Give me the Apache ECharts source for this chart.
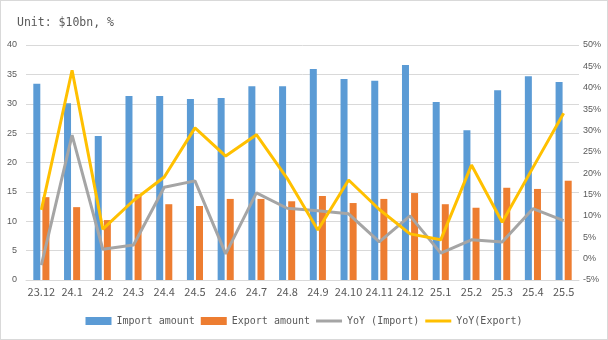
<!DOCTYPE html>
<html>
<head>
<meta charset="utf-8">
<script src="https://cdn.jsdelivr.net/npm/echarts@6/dist/echarts.min.js"></script>
<style>
html,body{margin:0;padding:0;background:#fff;}
#wrap{position:relative;width:608px;height:340px;}
#chart{position:absolute;left:0;top:0;width:608px;height:340px;}
#frame{position:absolute;left:0;top:0;width:606px;height:338px;border:1px solid #d9d9d9;pointer-events:none;}
</style>
</head>
<body>
<div id="wrap"><div id="chart"></div><div id="frame"></div></div>
<script>
const categories = ['23.12','24.1','24.2','24.3','24.4','24.5','24.6','24.7','24.8','24.9','24.10','24.11','24.12','25.1','25.2','25.3','25.4','25.5'];
const importAmount = [33.4,30.1,24.5,31.3,31.3,30.8,31.0,33.0,33.0,35.9,34.2,33.9,36.6,30.3,25.5,32.3,34.7,33.7];
const exportAmount = [14.1,12.4,10.2,14.6,12.9,12.6,13.8,13.8,13.4,14.3,13.1,13.8,14.8,12.9,12.3,15.7,15.5,16.9];
const yoyImport = [-1.5,28.9,2.2,3.2,16.7,18.2,1.1,15.4,11.8,11.2,10.5,3.9,10.0,1.3,4.4,3.9,11.7,8.9];
const yoyExport = [11.4,44.1,6.9,13.6,19.1,30.6,24.0,29.0,18.8,6.7,18.4,11.5,5.8,4.4,21.9,8.5,21.3,34.0];
const leftTicks = {min:0, max:40, interval:5};
const rightTicks = {min:-5, max:50, interval:5};

const chart = echarts.init(document.getElementById('chart'));
const grey = '#595959';
chart.setOption({
  animation:false,
  backgroundColor:'#fff',
  title:{text:'Unit: $10bn, %', left:12, top:12,
    textStyle:{fontFamily:'DejaVu Sans Mono', fontSize:11.5, fontWeight:'normal', color:grey}},
  grid:{left:26, right:29, top:45, bottom:60, containLabel:false},
  legend:{bottom:9, left:'center', itemGap:6, itemWidth:26, itemHeight:8,
    textStyle:{fontFamily:'DejaVu Sans Mono', fontSize:10, color:grey},
    data:[
      {name:'Import amount', icon:'rect'},
      {name:'Export amount', icon:'rect'},
      {name:'YoY (Import)', icon:'path://M0,0 L0.01,0 Z M0,2.5 L26,2.5 L26,5.5 L0,5.5 Z M0,8 L0.01,8 Z', itemStyle:{color:'#A5A5A5'}},
      {name:'YoY(Export)', icon:'path://M0,0 L0.01,0 Z M0,2.5 L26,2.5 L26,5.5 L0,5.5 Z M0,8 L0.01,8 Z', itemStyle:{color:'#FFC000'}}
    ]},
  xAxis:{type:'category', data:categories,
    axisLine:{lineStyle:{color:'#d9d9d9'}}, axisTick:{show:false},
    axisLabel:{fontFamily:'Noto Sans CJK SC', fontSize:11, color:grey, margin:6, interval:0}},
  yAxis:[
    {type:'value', min:leftTicks.min, max:leftTicks.max, interval:leftTicks.interval,
      axisLine:{show:false}, axisTick:{show:false},
      axisLabel:{fontFamily:'Liberation Sans', fontSize:9, color:grey, margin:9},
      splitLine:{lineStyle:{color:'#d9d9d9'}}},
    {type:'value', min:rightTicks.min, max:rightTicks.max, interval:rightTicks.interval,
      axisLine:{show:false}, axisTick:{show:false},
      axisLabel:{fontFamily:'Liberation Sans', fontSize:9, color:grey, margin:4, formatter:'{value}%'},
      splitLine:{show:false}}
  ],
  series:[
    {name:'Import amount', type:'bar', data:importAmount, barWidth:7, barGap:'30%',
      itemStyle:{color:'#5B9BD5'}},
    {name:'Export amount', type:'bar', data:exportAmount, barWidth:7, barGap:'30%',
      itemStyle:{color:'#ED7D31'}},
    {name:'YoY (Import)', type:'line', yAxisIndex:1, data:yoyImport, symbol:'none',
      lineStyle:{color:'#A5A5A5', width:3}, itemStyle:{color:'#A5A5A5'}},
    {name:'YoY(Export)', type:'line', yAxisIndex:1, data:yoyExport, symbol:'none',
      lineStyle:{color:'#FFC000', width:3}, itemStyle:{color:'#FFC000'}}
  ]
});
</script>
</body>
</html>
